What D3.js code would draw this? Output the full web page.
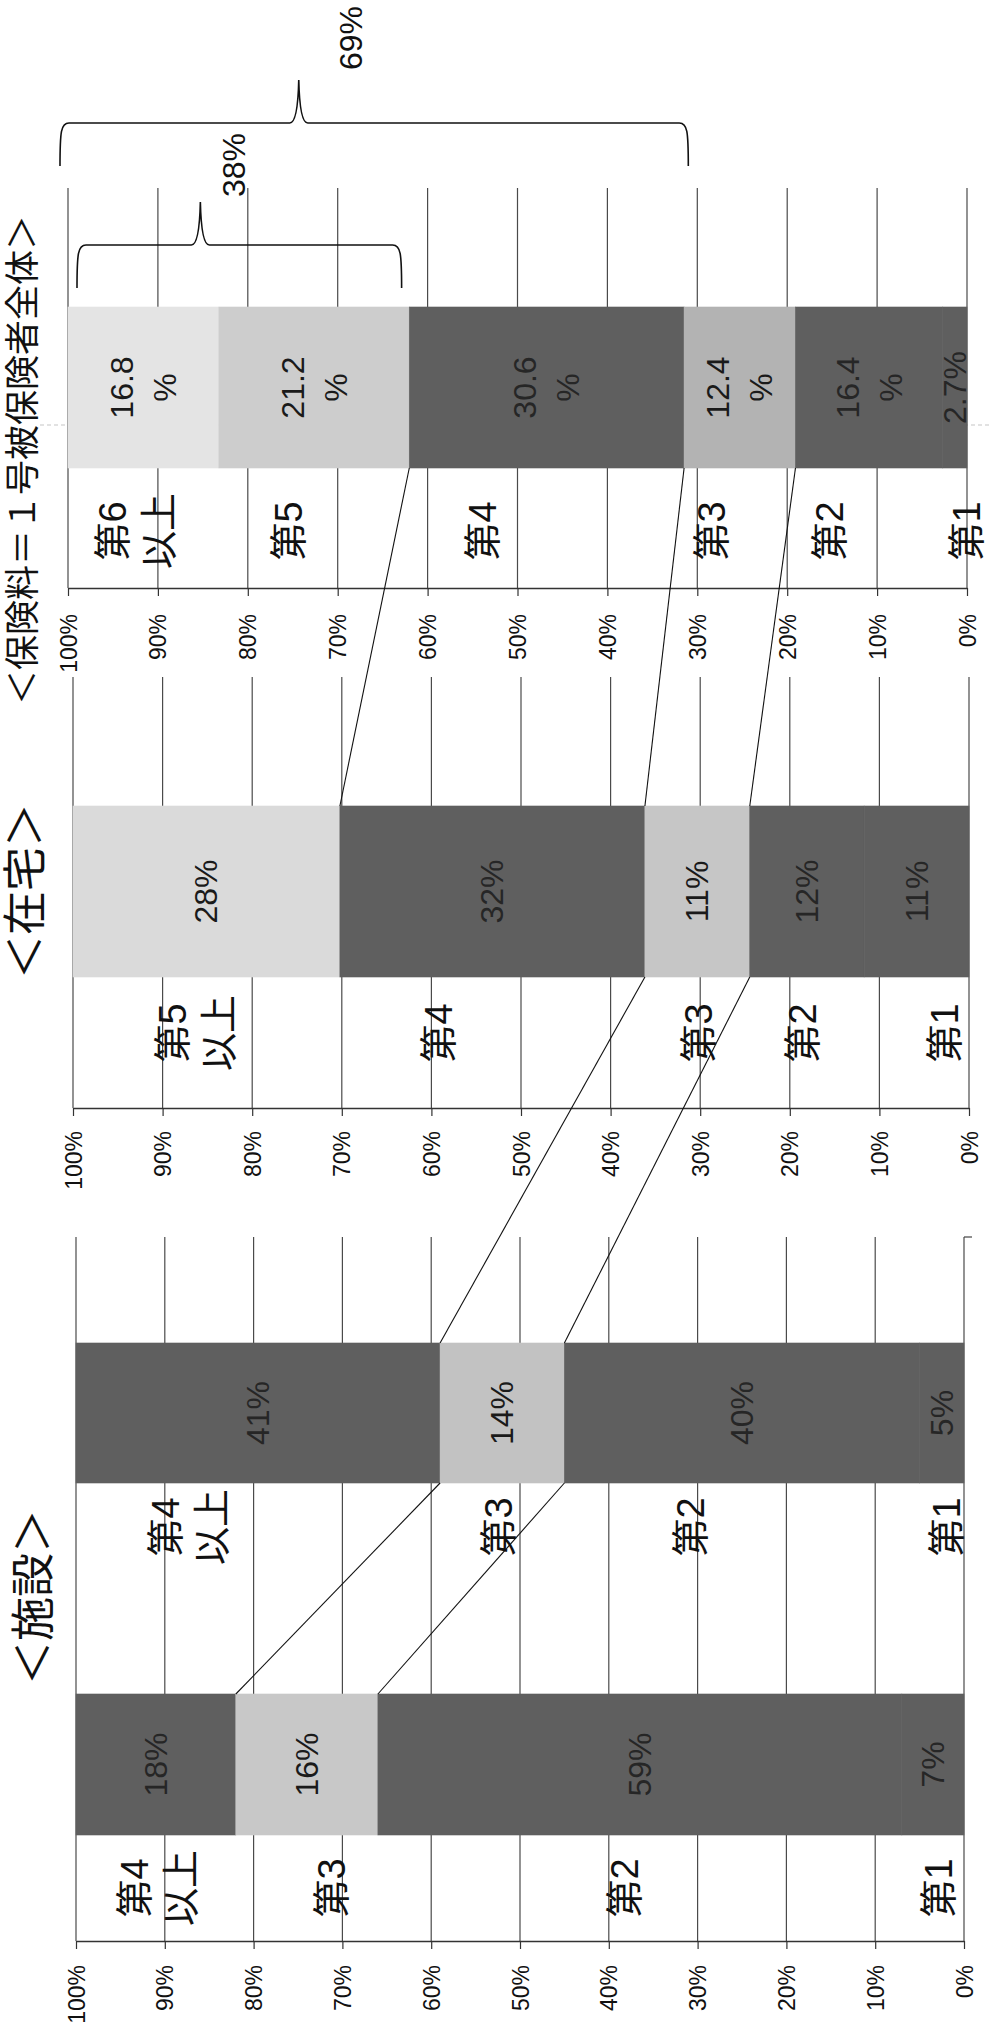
<!DOCTYPE html>
<html>
<head>
<meta charset="utf-8">
<script src="https://cdn.jsdelivr.net/npm/d3@7"></script>
<style>
  body { margin: 0; background: #fff; }
  text { font-family: "Liberation Sans", "Noto Sans CJK JP", sans-serif; fill: #111; }
</style>
</head>
<body>
<script>
var svgWidth = 990;
var svgHeight = 2031;

// ---- data ----
var ticks = [0, 10, 20, 30, 40, 50, 60, 70, 80, 90, 100];

var allGroups = ["第6\n以上", "第5", "第4", "第3", "第2", "第1"];
var allValues = [16.8, 21.2, 30.6, 12.4, 16.4, 2.7];
var allText = ["16.8\n%", "21.2\n%", "30.6\n%", "12.4\n%", "16.4\n%", "2.7%"];

var homeGroups = ["第5\n以上", "第4", "第3", "第2", "第1"];
var homeValues = [28, 32, 11, 12, 11];
var homeText = ["28%", "32%", "11%", "12%", "11%"];

var facGroups = ["第4\n以上", "第3", "第2", "第1"];
var facUpperValues = [41, 14, 40, 5];
var facUpperText = ["41%", "14%", "40%", "5%"];
var facLowerValues = [18, 16, 59, 7];
var facLowerText = ["18%", "16%", "59%", "7%"];

var braceShares = [38, 69];
var braceText = ["38%", "69%"];

// links: [panel, bar, boundary index] -> [panel, bar, boundary index]
var links = [
  [[0, 0, 2], [1, 0, 1]],
  [[0, 0, 3], [1, 0, 2]],
  [[0, 0, 4], [1, 0, 3]],
  [[1, 0, 2], [2, 0, 1]],
  [[1, 0, 3], [2, 0, 2]],
  [[2, 0, 1], [2, 1, 1]],
  [[2, 0, 2], [2, 1, 2]]
];

// ---- layout ----
var DARK = "#5f5f5f";
var panels = [
  {
    title: "＜保険料＝１号被保険者全体＞", titleX: 22, titleY: 460, titleSize: 35,
    x0: 68, x1: 967, gridTop: 188, axisY: 588, tickGap: 26,
    bars: [{
      groups: allGroups, values: allValues, text: allText,
      y0: 307, y1: 468, labelY: 531,
      labelAt: [92.4, 75.4, 53.8, 28.4, 15.2, 0.0],
      fills: ["#e4e4e4", "#cdcdcd", DARK, "#b3b3b3", DARK, DARK]
    }]
  },
  {
    title: "＜在宅＞", titleX: 25, titleY: 891, titleSize: 44,
    x0: 73, x1: 969, gridTop: 677, axisY: 1108, tickGap: 23,
    bars: [{
      groups: homeGroups, values: homeValues, text: homeText,
      y0: 806, y1: 977, labelY: 1033,
      labelAt: [86.3, 59.2, 30.1, 18.5, 2.7],
      fills: ["#dadada", DARK, "#c6c6c6", DARK, DARK]
    }]
  },
  {
    title: "＜施設＞", titleX: 33, titleY: 1597, titleSize: 44,
    x0: 76, x1: 964, gridTop: 1237, axisY: 1941, tickGap: 24,
    bars: [{
      groups: facGroups, values: facUpperValues, text: facUpperText,
      y0: 1343, y1: 1483, labelY: 1527,
      labelAt: [87.3, 52.4, 30.7, 1.9],
      fills: [DARK, "#c2c2c2", DARK, DARK]
    }, {
      groups: facGroups, values: facLowerValues, text: facLowerText,
      y0: 1694, y1: 1835, labelY: 1888,
      labelAt: [90.8, 71.2, 38.2, 2.8],
      fills: [DARK, "#c8c8c8", DARK, DARK]
    }]
  }
];

var braces = [
  { y: 245, depth: 43, peak: 43, padL: 9, padR: -8, textDx: 34, textY: 197 },
  { y: 123, depth: 43, peak: 43, padL: -8, padR: 0, textDx: 52, textY: 70 }
];

var svg = d3.select("body")
  .append("svg")
  .attr("width", svgWidth)
  .attr("height", svgHeight);

// scan fold artifact
svg.append("line")
  .attr("x1", 40).attr("x2", svgWidth)
  .attr("y1", 425).attr("y2", 425)
  .attr("stroke", "#888").attr("stroke-width", 0.8)
  .attr("stroke-dasharray", "4,3")
  .attr("opacity", 0.6);

// rotated multi-line text helper
function rotText(parent, cx, cy, str, size, spacing, color) {
  var lines = str.split("\n");
  var g = parent.append("g")
    .attr("transform", `translate(${cx}, ${cy}) rotate(-90)`);
  lines.forEach(function(line, i) {
    g.append("text")
      .attr("x", 0)
      .attr("y", (i - (lines.length - 1) / 2) * spacing)
      .attr("text-anchor", "middle")
      .attr("dominant-baseline", "central")
      .style("font-size", size + "px")
      .style("fill", color || "#111")
      .text(line);
  });
}

panels.forEach(function(p) {
  var x = d3.scaleLinear().domain([100, 0]).range([p.x0, p.x1]);
  p.x = x;
  var g = svg.append("g");

  // gridlines
  g.selectAll(".grid")
    .data(ticks)
    .enter()
    .append("line")
    .attr("x1", d => x(d))
    .attr("x2", d => x(d))
    .attr("y1", p.gridTop)
    .attr("y2", p.axisY)
    .attr("stroke", "#4a4a4a")
    .attr("stroke-width", 1.2);

  // axis
  var axis = d3.axisBottom(x)
    .tickValues(ticks)
    .tickSize(8)
    .tickSizeOuter(0)
    .tickFormat(d => d + "%");
  var ag = g.append("g")
    .attr("transform", `translate(0, ${p.axisY})`)
    .call(axis)
    .attr("font-size", null)
    .attr("font-family", null);
  ag.select(".domain").attr("stroke", "#333").attr("stroke-width", 1.6);
  ag.selectAll(".tick line").attr("stroke", "#333").attr("stroke-width", 1.2);
  ag.selectAll(".tick text")
    .attr("transform", "rotate(-90)")
    .attr("x", -p.tickGap)
    .attr("y", 0)
    .attr("dy", null)
    .attr("dominant-baseline", "central")
    .style("text-anchor", "end")
    .style("font-size", "23px")
    .style("fill", "#111");

  // bars
  p.bars.forEach(function(b) {
    var row = {};
    b.groups.forEach((k, i) => row[k] = b.values[i]);
    var series = d3.stack().keys(b.groups).offset(d3.stackOffsetExpand)([row]);
    b.bounds = [100].concat(series.map(s => 100 - s[0][1] * 100));

    g.selectAll(null)
      .data(series)
      .enter()
      .append("rect")
      .attr("x", d => x(100 - d[0][0] * 100))
      .attr("width", d => x(100 - d[0][1] * 100) - x(100 - d[0][0] * 100))
      .attr("y", b.y0)
      .attr("height", b.y1 - b.y0)
      .attr("fill", (d, i) => b.fills[i])
      .attr("stroke", (d, i) => b.fills[i])
      .attr("stroke-width", 0.6);

    // value labels
    series.forEach(function(s, i) {
      var mid = 100 - (s[0][0] + s[0][1]) * 50;
      var dark = b.fills[i] === DARK;
      rotText(g, x(mid), (b.y0 + b.y1) / 2, b.text[i], 32, 43, dark ? "#262626" : "#1a1a1a");
    });

    // category labels
    b.groups.forEach(function(name, i) {
      rotText(g, x(b.labelAt[i]), b.labelY, name, 38, 46, "#111");
    });
  });

  // panel title
  rotText(svg, p.titleX, p.titleY, p.title, p.titleSize, 0, "#111");
});

// small corner mark at top of 施設 0% gridline
svg.append("line")
  .attr("x1", panels[2].x(0)).attr("x2", panels[2].x(0) + 8)
  .attr("y1", panels[2].gridTop).attr("y2", panels[2].gridTop)
  .attr("stroke", "#444").attr("stroke-width", 1.2);

// connector lines between bars
links.forEach(function(l) {
  var pa = panels[l[0][0]], ba = pa.bars[l[0][1]];
  var pb = panels[l[1][0]], bb = pb.bars[l[1][1]];
  svg.append("line")
    .attr("x1", pa.x(ba.bounds[l[0][2]]))
    .attr("y1", ba.y1)
    .attr("x2", pb.x(bb.bounds[l[1][2]]))
    .attr("y2", bb.y0)
    .attr("stroke", "#111")
    .attr("stroke-width", 1.1);
});

// braces over the overall bar
var xAll = panels[0].x;
braceShares.forEach(function(share, i) {
  var br = braces[i];
  var xa = xAll(100) + br.padL;
  var xb = xAll(100 - share) + br.padR;
  var xp = xa + 0.38 * (xb - xa);
  var y = br.y;
  var path = d3.path();
  path.moveTo(xa, y + br.depth);
  path.bezierCurveTo(xa, y + 8, xa + 1, y, xa + 9, y);
  path.lineTo(xp - 9, y);
  path.quadraticCurveTo(xp - 1, y, xp, y - br.peak);
  path.quadraticCurveTo(xp + 1, y, xp + 9, y);
  path.lineTo(xb - 9, y);
  path.bezierCurveTo(xb - 1, y, xb, y + 8, xb, y + br.depth);
  svg.append("path")
    .attr("d", path.toString())
    .attr("fill", "none")
    .attr("stroke", "#111")
    .attr("stroke-width", 1.6);

  svg.append("text")
    .attr("transform", `translate(${xp + br.textDx}, ${br.textY}) rotate(-90)`)
    .attr("text-anchor", "start")
    .attr("dominant-baseline", "central")
    .style("font-size", "32px")
    .text(braceText[i]);
});
</script>
</body>
</html>
